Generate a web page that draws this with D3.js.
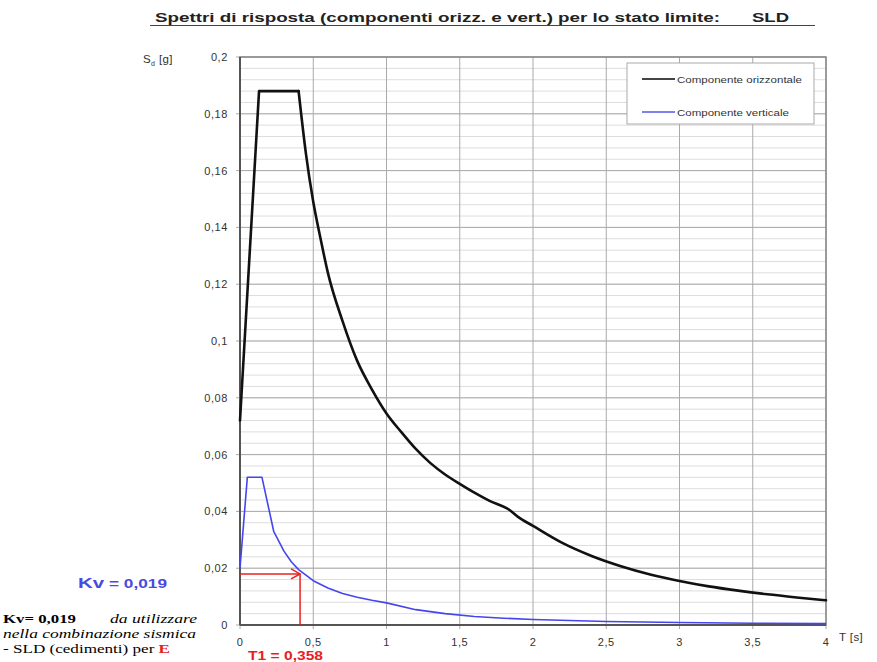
<!DOCTYPE html>
<html>
<head>
<meta charset="utf-8">
<script src="https://cdn.jsdelivr.net/npm/d3@7"></script>
<style>
  body { margin: 0; background: #fff; }
  svg { font-family: "Liberation Sans", Arial, sans-serif; }
</style>
</head>
<body>
<svg id="chart" width="877" height="662"></svg>
<script>
// values
const periodH = [0, 0.13, 0.40, 0.45, 0.5, 0.55, 0.6, 0.7, 0.8, 0.9, 1.0, 1.1, 1.2, 1.3, 1.4, 1.5, 1.6, 1.7, 1.84, 1.9, 2.0, 2.2, 2.4, 2.6, 2.8, 3.0, 3.2, 3.4, 3.6, 3.8, 4.0];
const sdH = [0.072, 0.188, 0.188, 0.166, 0.149, 0.136, 0.124, 0.107, 0.093, 0.083, 0.0745, 0.068, 0.062, 0.057, 0.053, 0.0497, 0.0466, 0.0438, 0.0405, 0.038, 0.0349, 0.0289, 0.0243, 0.0207, 0.0178, 0.0155, 0.0136, 0.0121, 0.0108, 0.0097, 0.0087];
const periodV = [0, 0.05, 0.15, 0.23, 0.3, 0.35, 0.4, 0.5, 0.6, 0.7, 0.8, 0.9, 1.0, 1.2, 1.4, 1.6, 1.8, 2.0, 2.5, 3.0, 3.5, 4.0];
const sdV = [0.020, 0.052, 0.052, 0.033, 0.026, 0.0223, 0.0195, 0.0156, 0.013, 0.0111, 0.0098, 0.0087, 0.0078, 0.0054, 0.0040, 0.0030, 0.0024, 0.00195, 0.00125, 0.00087, 0.00064, 0.00049];
const xTicks = [0, 0.5, 1, 1.5, 2, 2.5, 3, 3.5, 4];
const yTicks = [0, 0.02, 0.04, 0.06, 0.08, 0.1, 0.12, 0.14, 0.16, 0.18, 0.2];
const seriesNames = ["Componente orizzontale", "Componente verticale"];
const kvValue = 0.018;   // arrow level
const t1Value = 0.41;    // arrow period

const svg = d3.select("#chart");
const x = d3.scaleLinear().domain([0, 4]).range([240, 826]);
const y = d3.scaleLinear().domain([0, 0.2]).range([625, 57]);
const fmt = (v) => String(+v.toFixed(3)).replace(".", ",");

// the source picture is stretched sideways, so texts get a fixed length
function label(px, py, str, size, len) {
  return svg.append("text").attr("x", px).attr("y", py)
    .attr("font-size", size).attr("textLength", len)
    .attr("lengthAdjust", "spacingAndGlyphs").text(str);
}

// title
label(155, 22, "Spettri di risposta (componenti orizz. e vert.) per lo stato limite:", 13.5, 565)
  .attr("font-weight", "bold").attr("fill", "#222");
label(752, 22, "SLD", 13.5, 37).attr("font-weight", "bold").attr("fill", "#222");
svg.append("line").attr("x1", 150).attr("x2", 815).attr("y1", 25.5).attr("y2", 25.5)
  .attr("stroke", "#444").attr("stroke-width", 1.2);

// grid
const minor = d3.range(0, 0.2001, 0.004);
svg.append("g").selectAll("line").data(minor).join("line")
  .attr("x1", x(0)).attr("x2", x(4))
  .attr("y1", (d) => y(d)).attr("y2", (d) => y(d))
  .attr("stroke", "#ddd").attr("stroke-width", 1);
svg.append("g").selectAll("line").data(yTicks).join("line")
  .attr("x1", x(0) - 4).attr("x2", x(4))
  .attr("y1", (d) => y(d)).attr("y2", (d) => y(d))
  .attr("stroke", "#aaa").attr("stroke-width", 1);
svg.append("g").selectAll("line").data(xTicks).join("line")
  .attr("x1", (d) => x(d)).attr("x2", (d) => x(d))
  .attr("y1", y(0.2)).attr("y2", y(0) + 4)
  .attr("stroke", "#aaa").attr("stroke-width", 1);

// frame
svg.append("rect").attr("x", x(0)).attr("y", y(0.2))
  .attr("width", x(4) - x(0)).attr("height", y(0) - y(0.2))
  .attr("fill", "none").attr("stroke", "#888").attr("stroke-width", 1.5);
svg.append("line").attr("x1", x(0)).attr("x2", x(0)).attr("y1", y(0.2)).attr("y2", y(0))
  .attr("stroke", "#555").attr("stroke-width", 2);
svg.append("line").attr("x1", x(0)).attr("x2", x(4)).attr("y1", y(0)).attr("y2", y(0))
  .attr("stroke", "#555").attr("stroke-width", 2);

// tick labels
svg.append("g").selectAll("text").data(yTicks).join("text")
  .attr("x", 228).attr("y", (d) => y(d) + 4)
  .attr("text-anchor", "end").attr("font-size", 11).attr("letter-spacing", 0.6).attr("fill", "#333")
  .text(fmt);
svg.append("g").selectAll("text").data(xTicks).join("text")
  .attr("x", (d) => x(d)).attr("y", 646)
  .attr("text-anchor", "middle").attr("font-size", 11).attr("letter-spacing", 0.6).attr("fill", "#333")
  .text(fmt);

// axis titles
const yl = svg.append("text").attr("x", 143).attr("y", 63).attr("font-size", 11.5)
  .attr("letter-spacing", 0.4).attr("fill", "#333");
yl.append("tspan").text("S");
yl.append("tspan").attr("dy", 3).attr("font-size", 7).text("d");
yl.append("tspan").attr("dy", -3).text(" [g]");
svg.append("text").attr("x", 839).attr("y", 641).attr("font-size", 11.5)
  .attr("letter-spacing", 0.4).attr("fill", "#333").text("T  [s]");

// curves: straight rise and plateau, smooth decay for the horizontal one
const line = d3.line().x((d) => x(d[0])).y((d) => y(d[1]));
const smooth = d3.line().x((d) => x(d[0])).y((d) => y(d[1])).curve(d3.curveMonotoneX);
const ptsH = d3.zip(periodH, sdH);
const hStyle = (p) => p.attr("fill", "none").attr("stroke", "#111").attr("stroke-width", 2.6)
  .attr("stroke-linejoin", "round").attr("stroke-linecap", "round");
hStyle(svg.append("path").datum(ptsH.slice(0, 3)).attr("d", line));
hStyle(svg.append("path").datum(ptsH.slice(2)).attr("d", smooth));
svg.append("path").datum(d3.zip(periodV, sdV)).attr("d", line)
  .attr("fill", "none").attr("stroke", "#4545f0").attr("stroke-width", 1.6).attr("stroke-linejoin", "round");

// legend
svg.append("rect").attr("x", 627).attr("y", 63).attr("width", 187).attr("height", 61)
  .attr("fill", "#fff").attr("stroke", "#aaa").attr("stroke-width", 1);
const legColors = ["#444", "#8080f0"];
const legLen = [125, 112];
seriesNames.forEach((name, i) => {
  const ly = 79 + i * 33;
  svg.append("line").attr("x1", 642).attr("x2", 675).attr("y1", ly).attr("y2", ly)
    .attr("stroke", legColors[i]).attr("stroke-width", 2);
  label(677, ly + 3.5, name, 9, legLen[i]).attr("fill", "#333");
});

// red arrow
const red = "#e82020";
svg.append("line").attr("x1", x(0)).attr("x2", x(t1Value)).attr("y1", y(kvValue)).attr("y2", y(kvValue))
  .attr("stroke", red).attr("stroke-width", 1.5);
svg.append("path")
  .attr("d", `M${x(t1Value) - 9},${y(kvValue) - 5} L${x(t1Value)},${y(kvValue)} L${x(t1Value) - 9},${y(kvValue) + 5}`)
  .attr("fill", "none").attr("stroke", red).attr("stroke-width", 1.5);
svg.append("line").attr("x1", x(t1Value)).attr("x2", x(t1Value)).attr("y1", y(kvValue)).attr("y2", y(0))
  .attr("stroke", red).attr("stroke-width", 1.5);

// annotations
const kv = svg.append("text").attr("x", 78).attr("y", 588).attr("fill", "#4a4ae0")
  .attr("font-weight", "bold").attr("textLength", 89).attr("lengthAdjust", "spacingAndGlyphs");
kv.append("tspan").attr("font-size", 15.5).text("Kv");
kv.append("tspan").attr("font-size", 13).text(" = 0,019");

label(248, 660, "T1 = 0,358", 13, 75).attr("fill", red).attr("font-weight", "bold");

const serif = "'Liberation Serif', 'Times New Roman', serif";
label(3, 623, "Kv= 0,019", 13.5, 73).style("font-family", serif).attr("font-weight", "bold");
label(110, 623, "da utilizzare", 12.5, 87).style("font-family", serif).attr("font-style", "italic");
label(3, 638, "nella combinazione  sismica", 12.5, 193).style("font-family", serif).attr("font-style", "italic");
const n3 = svg.append("text").attr("x", 3).attr("y", 653).style("font-family", serif)
  .attr("font-size", 13).attr("textLength", 167).attr("lengthAdjust", "spacingAndGlyphs");
n3.append("tspan").text("- SLD (cedimenti)  per ");
n3.append("tspan").attr("fill", red).attr("font-weight", "bold").text("E");
</script>
</body>
</html>
